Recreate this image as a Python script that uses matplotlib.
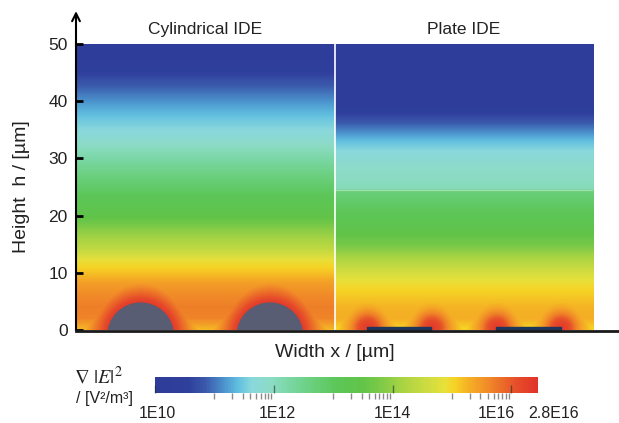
import numpy as np
import matplotlib
matplotlib.use('Agg')
import matplotlib.pyplot as plt
from matplotlib.colors import LinearSegmentedColormap, LogNorm, Normalize
from matplotlib.cm import ScalarMappable
from matplotlib.patches import Circle, Rectangle
from matplotlib.lines import Line2D
import matplotlib.transforms as mtransforms
from matplotlib.ticker import FixedLocator, NullFormatter

plt.rcParams['font.family'] = ['Liberation Sans', 'DejaVu Sans']

# ---------------- data ----------------
panel_titles = ['Cylindrical IDE', 'Plate IDE']
panel_width = 45.0          # µm
height_max = 50.0           # µm
y_ticks = [0, 10, 20, 30, 40, 50]

electrode_centers = [11.25, 33.75]   # µm, within each panel
electrode_half_width = 5.6
cyl_radius = 5.7
cyl_center_y = -1.0
plate_thickness = 0.5

# vertical profiles of log10(grad|E|^2)
cyl_h   = [0, 2, 4, 6, 8, 10, 12, 14, 17.5, 20, 23, 27, 31, 34, 37, 40, 43.5, 46, 50]
cyl_log = [15.2, 15.65, 15.7, 15.6, 15.45, 15.15, 14.9, 14.45, 13.9, 13.4, 13.1,
           12.6, 12.1, 11.7, 11.45, 11.15, 10.75, 10.4, 10.3]
plate_h   = [0, 2, 4, 6, 8, 10, 12, 15, 18, 21, 24.3, 24.6, 28, 31, 33, 35, 37, 39, 50]
plate_log = [15.0, 15.3, 15.25, 15.1, 14.95, 14.65, 14.3, 13.7, 13.3, 13.0, 12.65,
             12.05, 11.9, 11.65, 11.4, 11.05, 10.7, 10.35, 10.25]

# near-electrode profiles (distance from electrode surface / edge, µm)
cyl_near_d   = [0, 0.5, 1, 2, 3, 4, 5, 6, 8]
cyl_near_log = [16.35, 16.2, 16.05, 15.8, 15.55, 15.3, 15.1, 14.9, 14.5]
plate_near_d   = [0, 1, 1.8, 2.5, 3.5, 5, 7]
plate_near_log = [16.35, 16.2, 16.0, 15.7, 15.4, 15.1, 14.8]

# colour scale
cbar_min, cbar_max = 1e10, 2.8e16
cbar_major = [1e10, 1e12, 1e14, 1e16]
cbar_labels = ['1E10', '1E12', '1E14', '1E16']
cmap_logs = [10.0, 10.55, 10.85, 11.18, 11.4, 11.62, 11.95, 12.29, 12.62, 13.06,
             13.5, 13.83, 14.17, 14.61, 14.88, 15.05, 15.27, 15.55, 15.82, 16.1, 16.447]
cmap_cols = ['#2e3c98', '#2f3f9c', '#3b5aac', '#4d98d0', '#62c0e0', '#8ad8dc',
             '#8cdcc4', '#78d6a0', '#6ad07e', '#5cc658', '#62c448', '#80ca48',
             '#a8d444', '#d0dc40', '#e8e03a', '#f6d324', '#f5b225', '#f29228',
             '#ec7028', '#e64c2a', '#e1332b']

# ---------------- figure ----------------
W, Hpx = 619, 423
fig = plt.figure(figsize=(W / 100, Hpx / 100), dpi=100)
ax = fig.add_axes([76 / W, 1 - 330 / Hpx, (593 - 76) / W, (330 - 44) / Hpx])

lo, hi = np.log10(cbar_min), np.log10(cbar_max)
pos = list(np.clip([(v - lo) / (hi - lo) for v in cmap_logs], 0, 1))
pos[0], pos[-1] = 0.0, 1.0
cmap = LinearSegmentedColormap.from_list('field', list(zip(pos, cmap_cols)))
lognorm = Normalize(lo, hi)

xs = np.linspace(0, panel_width, 451)
hs = np.linspace(0, height_max, 501)
X, Hh = np.meshgrid(xs, hs)

# cylindrical panel
d_cyl = np.min([np.sqrt((X - c) ** 2 + (Hh - cyl_center_y) ** 2) - cyl_radius
                for c in electrode_centers], axis=0).clip(0)
L_cyl = np.maximum(np.interp(Hh, cyl_h, cyl_log),
                   np.interp(d_cyl, cyl_near_d, cyl_near_log, right=lo))
# plate panel
edges = [c + s * electrode_half_width for c in electrode_centers for s in (-1, 1)]
d_pl = np.min([np.sqrt((X - e) ** 2 + (Hh - plate_thickness / 2) ** 2) for e in edges], axis=0)
L_pl = np.maximum(np.interp(Hh, plate_h, plate_log),
                  np.interp(d_pl, plate_near_d, plate_near_log, right=lo))

ax.imshow(L_cyl, extent=[0, panel_width, 0, height_max], origin='lower',
          cmap=cmap, norm=lognorm, aspect='auto', interpolation='bilinear')
ax.imshow(L_pl, extent=[panel_width, 2 * panel_width, 0, height_max], origin='lower',
          cmap=cmap, norm=lognorm, aspect='auto', interpolation='bilinear')

for c in electrode_centers:
    ax.add_patch(Circle((c, cyl_center_y), cyl_radius, color='#585d73', zorder=3))
    ax.add_patch(Rectangle((panel_width + c - electrode_half_width, 0),
                           2 * electrode_half_width, plate_thickness,
                           color='#1e3659', zorder=3, clip_on=False))

ax.axvline(panel_width, color='white', lw=1.2, zorder=4)
ax.plot([panel_width, 2 * panel_width], [24.45, 24.45], color='white', alpha=0.35, lw=1, zorder=4)

ax.set_xlim(0, 2 * panel_width)
ax.set_ylim(0, height_max)
ax.set_xticks([])
ax.set_yticks(y_ticks)
ax.tick_params(axis='y', direction='in', length=5, width=2, labelsize=12.5,
               pad=6, labelcolor='#222222')
for s in ['top', 'right', 'bottom']:
    ax.spines[s].set_visible(False)
ax.spines['left'].set_linewidth(1.5)
ax.annotate('', xy=(0, 1.115), xytext=(0, 0.99), xycoords='axes fraction',
            arrowprops=dict(arrowstyle='->', lw=1.5, color='black',
                            shrinkA=0, shrinkB=0, mutation_scale=14))

tr = mtransforms.blended_transform_factory(ax.transData, ax.transAxes)
for i, t in enumerate(panel_titles):
    ax.text(panel_width * (i + 0.5), 1.049, t, transform=tr, ha='center', va='center',
            fontsize=12.5, color='#222222')

fig.add_artist(Line2D([76 / W, 1.0], [1 - 330.5 / Hpx] * 2, color='#1a1a1a', lw=2))

fig.text(335 / W, 1 - 352 / Hpx, 'Width x / [µm]', ha='center', va='center',
         fontsize=14, color='#222222')
fig.text(22 / W, 1 - 187 / Hpx, 'Height  h / [µm]', ha='center', va='center',
         rotation=90, fontsize=14, color='#222222')

# colour bar
cax = fig.add_axes([155 / W, 1 - 393 / Hpx, 383 / W, 16 / Hpx])
sm = ScalarMappable(norm=LogNorm(cbar_min, cbar_max), cmap=cmap)
cb = fig.colorbar(sm, cax=cax, orientation='horizontal')
cb.outline.set_visible(False)
cax.xaxis.set_major_locator(FixedLocator(cbar_major))
cax.xaxis.set_major_formatter(NullFormatter())
minor = [cbar_min] + [k * 10.0 ** n for n in (11, 13, 15) for k in range(1, 10)]
cax.xaxis.set_minor_locator(FixedLocator(minor))
cax.xaxis.set_minor_formatter(NullFormatter())
cax.tick_params(axis='x', which='major', direction='in', length=6, width=1,
                color=(0.1, 0.2, 0.15, 0.6))
cax.tick_params(axis='x', which='minor', direction='out', length=4, width=1, color='#8a8a8a')
ctr = mtransforms.blended_transform_factory(cax.transData, cax.transAxes)
offsets = [2, 4, 0, -15]
for v, lab, off in zip(cbar_major, cbar_labels, offsets):
    t = mtransforms.offset_copy(ctr, fig=fig, x=off, units='dots')
    cax.text(v, -1.3, lab, transform=t, ha='center', va='center', fontsize=11.5, color='#222222')
t = mtransforms.offset_copy(ctr, fig=fig, x=16, units='dots')
cax.text(cbar_max, -1.3, '2.8E16', transform=t, ha='center', va='center', fontsize=11.5,
         color='#222222')

fig.text(98 / W, 1 - 377 / Hpx, r'$\nabla\ |E|^2$', ha='center', va='center',
         fontsize=14.5, math_fontfamily='stix', color='#222222')
fig.text(104 / W, 1 - 398 / Hpx, '/ [V²/m³]', ha='center', va='center',
         fontsize=11.5, color='#222222')

fig.savefig('out.png', dpi=100)
